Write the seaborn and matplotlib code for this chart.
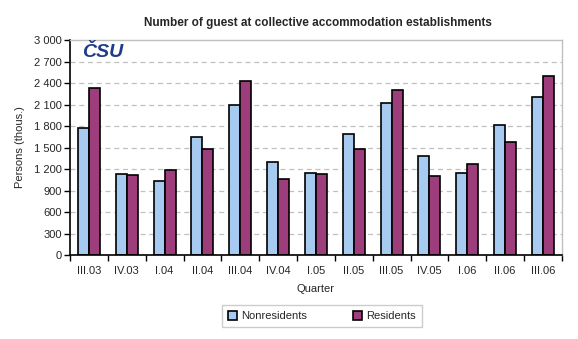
import matplotlib
matplotlib.use('Agg')
import pandas as pd
import numpy as np
import matplotlib.pyplot as plt
import seaborn as sns
from matplotlib.ticker import FuncFormatter, FixedLocator

quarters = ["III.03", "IV.03", "I.04", "II.04", "III.04", "IV.04", "I.05",
            "II.05", "III.05", "IV.05", "I.06", "II.06", "III.06"]
nonresidents = [1768, 1133, 1036, 1648, 2094, 1300, 1147, 1684, 2120, 1378, 1147, 1810, 2199]
residents = [2330, 1119, 1189, 1481, 2428, 1063, 1133, 1480, 2297, 1100, 1267, 1573, 2496]

df = pd.DataFrame({"Quarter": quarters * 2,
                   "Persons": nonresidents + residents,
                   "Group": ["Nonresidents"] * len(quarters) + ["Residents"] * len(quarters)})

sns.set_style("white")
plt.rcParams['font.family'] = ['Liberation Sans', 'DejaVu Sans']

fig = plt.figure(figsize=(5.78, 3.39), dpi=100)
ax = fig.add_axes([0.1211, 0.2478, 0.851, 0.634])

sns.barplot(data=df, x="Quarter", y="Persons", hue="Group",
            palette=["#A6CAF0", "#9E3D7B"], saturation=1, width=0.58, gap=0,
            edgecolor="black", linewidth=1.2, ax=ax, legend=True)

ax.set_ylim(0, 3000)
ax.set_xlim(-0.5, len(quarters) - 0.5)
ax.set_yticks(np.arange(0, 3001, 300))
ax.yaxis.set_major_formatter(FuncFormatter(lambda v, p: f"{int(v):,}".replace(",", " ")))
for y in range(300, 3000, 300):
    ax.axhline(y, color="#c0c0c0", linestyle=(0, (4, 3)), linewidth=0.9, zorder=0)

ax.xaxis.set_minor_locator(FixedLocator(np.arange(-0.5, len(quarters), 1)))
ax.tick_params(axis="x", which="major", length=0, labelsize=8, pad=8)
ax.tick_params(axis="x", which="minor", length=4, width=1, color="black", direction="out", bottom=True)
ax.tick_params(axis="y", length=4, width=1, color="black", direction="out", labelsize=8, pad=2, left=True)

for s in ["left", "bottom"]:
    ax.spines[s].set_color("black")
    ax.spines[s].set_linewidth(1.2)
for s in ["top", "right"]:
    ax.spines[s].set_color("#c0c0c0")
    ax.spines[s].set_linewidth(1)

ax.set_xlabel("Quarter", fontsize=8, labelpad=6)
ax.set_ylabel("Persons (thous.)", fontsize=8, labelpad=6)

fig.text(0.55, 0.932, "Number of guest at collective accommodation establishments",
         ha="center", va="center", fontsize=8.5, fontweight="bold")
ax.text(0.025, 0.94, "ČSU", transform=ax.transAxes, ha="left", va="center",
        fontsize=14, fontweight="bold", fontstyle="italic", color="#1f3c88")

leg = ax.legend(loc="center", bbox_to_anchor=(0.512, -0.285), ncol=2,
                fontsize=8, frameon=True, fancybox=False, edgecolor="#c0c0c0",
                handlelength=0.8, handleheight=0.8, handletextpad=0.4,
                columnspacing=4.1, borderpad=0.55)
leg.get_frame().set_linewidth(1)

fig.savefig("out.png", dpi=100)
